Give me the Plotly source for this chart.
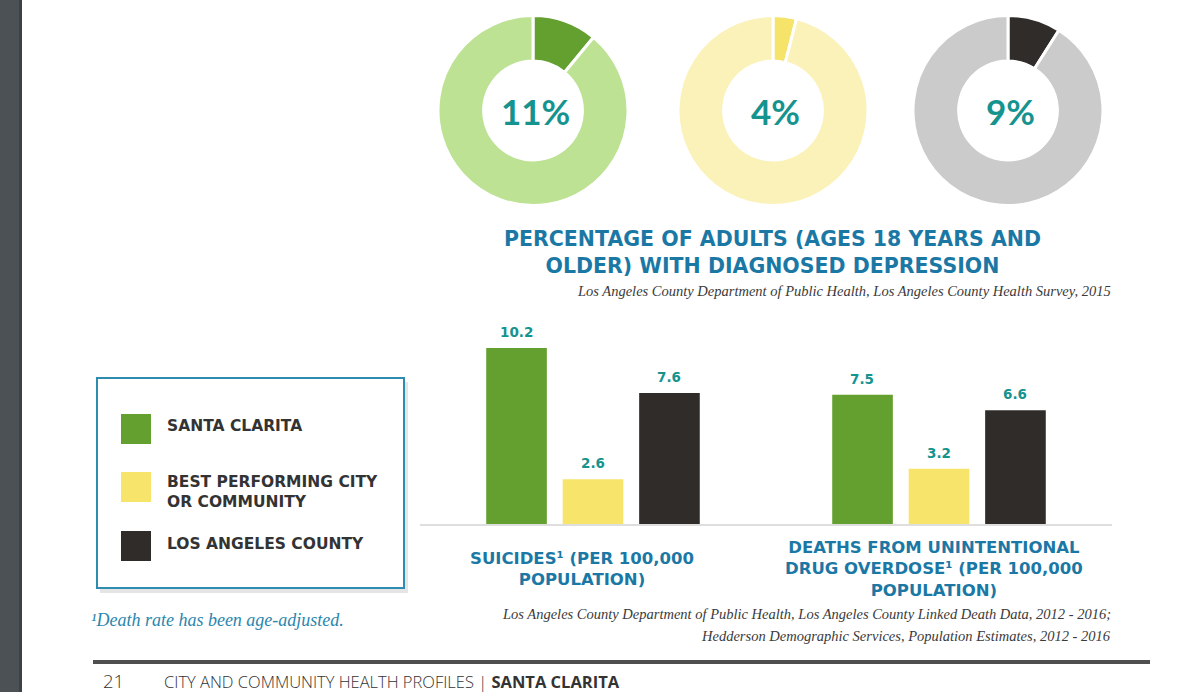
import plotly.graph_objects as go

W, H = 1200, 692

# ---------------- data ----------------
donut_values = [11, 4, 9]
donut_main_colors = ["#63a02f", "#f6e36a", "#302c2a"]
donut_rest_colors = ["#bde294", "#fbf2ba", "#cbcbcb"]

categories = ["SUICIDES", "DRUG OVERDOSE"]
category_labels = [
    "SUICIDES¹ (PER 100,000<br>POPULATION)",
    "DEATHS FROM UNINTENTIONAL<br>DRUG OVERDOSE¹ (PER 100,000<br>POPULATION)",
]
series_names = ["SANTA CLARITA", "BEST PERFORMING CITY<br>OR COMMUNITY", "LOS ANGELES COUNTY"]
series_values = [
    [10.2, 7.5],   # Santa Clarita
    [2.6, 3.2],    # Best performing city or community
    [7.6, 6.6],    # Los Angeles County
]
series_colors = ["#63a02f", "#f7e46b", "#302c2a"]

title_text = "PERCENTAGE OF ADULTS (AGES 18 YEARS AND<br>OLDER) WITH DIAGNOSED DEPRESSION"
source_top = "Los Angeles County Department of Public Health, Los Angeles County Health Survey, 2015"
source_bottom = [
    "Los Angeles County Department of Public Health, Los Angeles County Linked Death Data, 2012 - 2016;",
    "Hedderson Demographic Services, Population Estimates, 2012 - 2016",
]

TEAL = "#15938e"
BLUE = "#1b78a5"
SANS = "Lato, 'Open Sans', sans-serif"
HEAD = "'DejaVu Sans', 'Open Sans', sans-serif"
SERIF = "'Liberation Serif', 'DejaVu Serif', serif"


def px(x):
    return x / W


def py(y):
    return 1 - y / H


fig = go.Figure()
annotations = []
shapes = []

# ---------------- donuts ----------------
donut_x = [(438, 628), (678, 868), (913, 1103)]
for i, v in enumerate(donut_values):
    x0, x1 = donut_x[i]
    fig.add_trace(go.Pie(
        values=[v, 100 - v],
        marker=dict(colors=[donut_main_colors[i], donut_rest_colors[i]],
                    line=dict(color="white", width=3)),
        hole=0.52, sort=False, direction="clockwise", rotation=0,
        textinfo="none", hoverinfo="skip", showlegend=False,
        domain=dict(x=[px(x0), px(x1)], y=[py(206), py(15)]),
    ))
    annotations.append(dict(
        x=px((x0 + x1) / 2 + 2), y=py(111), xref="paper", yref="paper",
        text=f"{v}%", showarrow=False, xanchor="center", yanchor="middle",
        font=dict(family=SANS, size=35, color=TEAL, weight="bold"),
    ))

annotations.append(dict(
    x=px(772), y=py(253), xref="paper", yref="paper", showarrow=False,
    text=title_text, xanchor="center", yanchor="middle", align="center",
    font=dict(family=HEAD, size=20.5, color=BLUE, weight="bold"),
))
annotations.append(dict(
    x=px(1113), y=py(291), xref="paper", yref="paper", showarrow=False,
    text=f"<i>{source_top}</i>", xanchor="right", yanchor="middle",
    font=dict(family=SERIF, size=14.5, color="#3a3a3a"),
))

# ---------------- bars ----------------
for name, vals, col in zip(series_names, series_values, series_colors):
    fig.add_trace(go.Bar(
        x=categories, y=vals, name=name, marker=dict(color=col, line=dict(width=0)),
        showlegend=False, hoverinfo="skip", xaxis="x", yaxis="y",
    ))

bar_offsets = [-77, 0, 76]
for s, vals in enumerate(series_values):
    for c, v in enumerate(vals):
        annotations.append(dict(
            x=categories[c], y=v, xref="x", yref="y", text=f"{v}",
            showarrow=False, xanchor="center", yanchor="middle",
            xshift=bar_offsets[s], yshift=16,
            font=dict(family=HEAD, size=13.5, color=TEAL, weight="bold"),
        ))

label_shift = [-11, -5]
for c, lab in enumerate(category_labels):
    annotations.append(dict(
        x=categories[c], y=py(569), xref="x", yref="paper", text=lab,
        showarrow=False, xanchor="center", yanchor="middle", align="center",
        xshift=label_shift[c],
        font=dict(family=HEAD, size=16.5, color=BLUE, weight="bold"),
    ))

for line, yc in zip(source_bottom, [614, 636]):
    annotations.append(dict(
        x=px(1113), y=py(yc), xref="paper", yref="paper", showarrow=False,
        text=f"<i>{line}</i>", xanchor="right", yanchor="middle",
        font=dict(family=SERIF, size=14.5, color="#3a3a3a"),
    ))

# ---------------- legend box ----------------
shapes.append(dict(type="rect", xref="paper", yref="paper",
                   x0=px(100), x1=px(408), y0=py(593), y1=py(382),
                   fillcolor="rgba(0,0,0,0.10)", line=dict(width=0), layer="below"))
shapes.append(dict(type="rect", xref="paper", yref="paper",
                   x0=px(97), x1=px(404), y0=py(588), y1=py(378),
                   fillcolor="white", line=dict(color="#2f8cb1", width=2), layer="below"))
legend_y = [429, 487, 546]
legend_text_y = [426, 492, 544]
for i, name in enumerate(series_names):
    shapes.append(dict(type="rect", xref="paper", yref="paper",
                       x0=px(121), x1=px(151), y0=py(legend_y[i] + 15), y1=py(legend_y[i] - 15),
                       fillcolor=series_colors[i], line=dict(width=0)))
    annotations.append(dict(
        x=px(165), y=py(legend_text_y[i]), xref="paper", yref="paper", text=name,
        showarrow=False, xanchor="left", yanchor="middle", align="left",
        font=dict(family=HEAD, size=15.5, color="#333333", weight="bold"),
    ))

annotations.append(dict(
    x=px(89), y=py(620), xref="paper", yref="paper", showarrow=False,
    text="<i>¹Death rate has been age-adjusted.</i>",
    xanchor="left", yanchor="middle",
    font=dict(family=SERIF, size=18, color="#2a86ad"),
))

# ---------------- footer & page chrome ----------------
shapes.append(dict(type="rect", xref="paper", yref="paper",
                   x0=0, x1=px(22), y0=0, y1=1, fillcolor="#4c5155", line=dict(width=0)))
shapes.append(dict(type="rect", xref="paper", yref="paper",
                   x0=px(19), x1=px(22), y0=0, y1=1, fillcolor="#3d4246", line=dict(width=0)))
shapes.append(dict(type="line", xref="paper", yref="paper",
                   x0=px(93), x1=px(1150), y0=py(662), y1=py(662),
                   line=dict(color="#4f4f4f", width=4)))
annotations.append(dict(
    x=px(101), y=py(680), xref="paper", yref="paper", showarrow=False, text="21",
    xanchor="left", yanchor="middle",
    font=dict(family="'Open Sans', sans-serif", size=18.5, color="#333333", weight=300),
))
annotations.append(dict(
    x=px(162), y=py(681), xref="paper", yref="paper", showarrow=False,
    text="CITY AND COMMUNITY HEALTH PROFILES | <b>SANTA CLARITA</b>",
    xanchor="left", yanchor="middle",
    font=dict(family="'Open Sans', sans-serif", size=16.5, color="#333333", weight=300),
))

fig.update_layout(
    width=W, height=H, margin=dict(l=0, r=0, t=0, b=0),
    paper_bgcolor="white", plot_bgcolor="white",
    barmode="group", bargap=0.337, bargroupgap=0.207,
    xaxis=dict(domain=[px(420), px(1112)], showline=True, linecolor="#dedede", linewidth=2,
               showticklabels=False, showgrid=False, zeroline=False, ticks="", fixedrange=True),
    yaxis=dict(domain=[py(524), py(310)], range=[0, 214 / 17.25], visible=False, fixedrange=True),
    annotations=annotations, shapes=shapes,
)

fig.write_html("out.html", config={"displayModeBar": False},
               post_script="document.body.style.margin='0px';document.body.style.overflow='hidden';")
